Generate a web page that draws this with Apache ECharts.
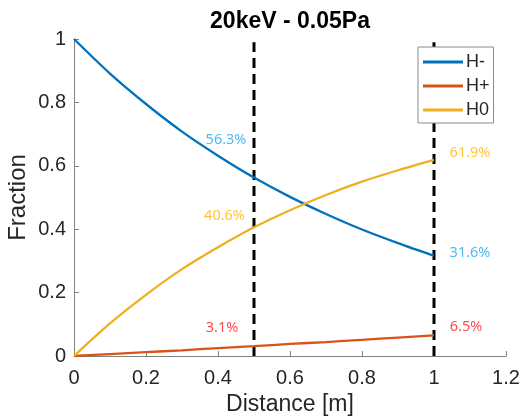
<!DOCTYPE html>
<html><head><meta charset="utf-8">
<script src="https://cdn.jsdelivr.net/npm/echarts@6/dist/echarts.min.js"></script>
<style>html,body{margin:0;padding:0;background:#fff}#c{width:522px;height:417px}</style>
</head><body><div id="c"></div>
<script>
const distance = [0, 0.1, 0.2, 0.3, 0.4, 0.5, 0.6, 0.7, 0.8, 0.9, 1.0];
const hMinus = [1.000, 0.891, 0.795, 0.708, 0.632, 0.563, 0.502, 0.448, 0.399, 0.356, 0.316];
const hPlus  = [0.000, 0.006, 0.012, 0.018, 0.025, 0.031, 0.038, 0.044, 0.051, 0.058, 0.065];
const hZero  = [0.000, 0.103, 0.193, 0.274, 0.343, 0.406, 0.460, 0.508, 0.550, 0.586, 0.619];
const markerX = [0.5, 1.0];
const markerTop = 0.99;
const xTicks = [0, 0.2, 0.4, 0.6, 0.8, 1, 1.2];
const yTicks = [0, 0.2, 0.4, 0.6, 0.8, 1];

const pts = (ys) => distance.map((x, i) => [x, ys[i]]);
const valAt = (ys, x) => ys[distance.indexOf(x)];

const annFont = 'Noto Sans';
function annSeries(ys, color, offsets) {
  return {
    type: 'scatter', symbolSize: 0, silent: true, z: 5,
    data: markerX.map((x, i) => ({
      value: [x, valAt(ys, x)],
      label: { offset: offsets[i] }
    })),
    label: {
      show: true, position: 'inside', color: color, fontFamily: annFont, fontSize: 14.5,
      formatter: p => (p.value[1] * 100).toFixed(1) + '%'
    }
  };
}

const chart = echarts.init(document.getElementById('c'), null, { renderer: 'canvas' });
chart.setOption({
  animation: false,
  graphic: [{
    type: 'text', x: 290, y: 22, z: 20,
    style: { text: '20keV - 0.05Pa', align: 'center', verticalAlign: 'middle',
      font: 'bold 23px "Liberation Sans"', fill: '#000' }
  }],
  grid: { left: 74, right: 16, top: 39, bottom: 61, containLabel: false, outerBoundsMode: 'none' },
  legend: {
    data: ['H-', 'H+', 'H0'], orient: 'vertical', left: 418, top: 47,
    width: 78, backgroundColor: '#fff', borderColor: '#8c8c8c', borderWidth: 1,
    padding: [6, 4, 4, 5], itemWidth: 40, itemHeight: 3, itemGap: 6, icon: 'rect',
    textStyle: { fontFamily: 'Liberation Sans', fontSize: 18, color: '#262626', padding: [0, 0, 0, -2] },
    z: 10
  },
  xAxis: {
    type: 'value', min: 0, max: 1.2, interval: 0.2,
    name: 'Distance [m]', nameLocation: 'middle', nameGap: 37,
    nameTextStyle: { fontFamily: 'Liberation Sans', fontSize: 23, color: '#262626' },
    axisLine: { show: true, onZero: false, lineStyle: { color: '#808080', width: 1 } },
    axisTick: { show: true, inside: true, length: 5, lineStyle: { color: '#808080' } },
    axisLabel: { margin: 12, fontFamily: 'Liberation Sans', fontSize: 20, color: '#262626',
      formatter: v => String(+v.toFixed(1)) },
    splitLine: { show: false }
  },
  yAxis: {
    type: 'value', min: 0, max: 1, interval: 0.2,
    name: 'Fraction', nameLocation: 'middle', nameGap: 44, nameMoveOverlap: false,
    nameTextStyle: { fontFamily: 'Liberation Sans', fontSize: 24, color: '#262626' },
    axisLine: { show: true, onZero: false, lineStyle: { color: '#808080', width: 1 } },
    axisTick: { show: true, inside: true, length: 5, lineStyle: { color: '#808080' } },
    axisLabel: { margin: 8, fontFamily: 'Liberation Sans', fontSize: 20, color: '#262626',
      formatter: v => String(+v.toFixed(1)) },
    splitLine: { show: false }
  },
  series: [
    { name: 'H-', type: 'line', data: pts(hMinus), smooth: 0.3, symbol: 'none', z: 3,
      lineStyle: { color: '#0072BD', width: 2.3 }, itemStyle: { color: '#0072BD' } },
    { name: 'H+', type: 'line', data: pts(hPlus), smooth: 0.3, symbol: 'none', z: 3,
      lineStyle: { color: '#D95319', width: 2.3 }, itemStyle: { color: '#D95319' } },
    { name: 'H0', type: 'line', data: pts(hZero), smooth: 0.3, symbol: 'none', z: 3,
      lineStyle: { color: '#EDB120', width: 2.3 }, itemStyle: { color: '#EDB120' } },
    ...markerX.map(x => ({
      name: 'marker' + x, type: 'line', symbol: 'none', silent: true, z: 2,
      data: [[x, 0], [x, markerTop]],
      lineStyle: { color: '#000', width: 3, type: [10, 6] }
    })),
    annSeries(hMinus, '#21A9F0', [[-28, -37.5], [36, -3]]),
    annSeries(hZero, '#FFB800', [[-29.5, -11], [36, -7]]),
    annSeries(hPlus, '#FF1A1A', [[-32, -18], [32, -8.5]])
  ]
});
</script></body></html>
